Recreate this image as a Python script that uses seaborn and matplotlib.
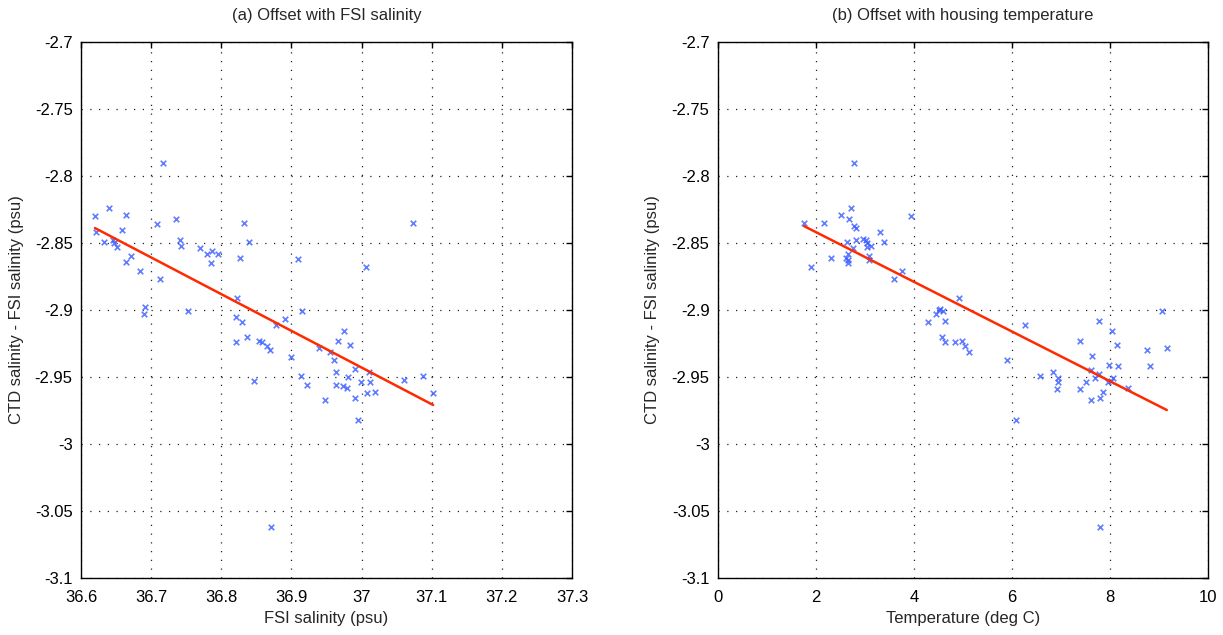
import numpy as np
import pandas as pd
import matplotlib
matplotlib.use("Agg")
import matplotlib.pyplot as plt
import seaborn as sns


# panel (a): FSI salinity vs CTD - FSI offset
fsi_salinity = [
    36.717, 36.620, 36.640, 36.664, 36.622, 36.658, 36.633, 36.645, 36.647, 36.651,
    36.671, 36.664, 36.684, 36.708, 36.712, 36.692, 36.690, 36.736, 36.741, 36.743,
    36.752, 36.770, 36.779, 36.787, 36.796, 36.785, 36.827, 36.833, 36.839, 36.823,
    36.821, 36.830, 36.836, 36.878, 36.909, 37.006, 36.821, 36.854, 36.858, 36.865,
    36.869, 36.847, 36.891, 36.900, 36.915, 36.913, 36.922, 36.948, 36.940, 36.955,
    36.961, 36.966, 36.975, 36.984, 36.963, 36.964, 36.973, 36.979, 36.980, 36.990,
    36.990, 36.999, 37.008, 37.012, 37.010, 37.019, 36.995, 37.061, 37.087, 37.102,
    37.074, 36.871,
]
offset_a = [
    -2.790, -2.830, -2.824, -2.829, -2.842, -2.840, -2.849, -2.848, -2.850, -2.853,
    -2.860, -2.864, -2.871, -2.836, -2.877, -2.898, -2.903, -2.832, -2.848, -2.852,
    -2.901, -2.854, -2.858, -2.856, -2.858, -2.865, -2.861, -2.835, -2.849, -2.891,
    -2.905, -2.909, -2.920, -2.911, -2.862, -2.868, -2.924, -2.923, -2.924, -2.927,
    -2.930, -2.953, -2.907, -2.935, -2.901, -2.949, -2.956, -2.967, -2.928, -2.931,
    -2.937, -2.923, -2.916, -2.926, -2.946, -2.956, -2.957, -2.958, -2.950, -2.944,
    -2.966, -2.954, -2.962, -2.954, -2.946, -2.961, -2.982, -2.952, -2.949, -2.962,
    -2.835, -3.062,
]

# panel (b): housing temperature vs CTD - FSI offset
housing_temp = [
    2.78, 1.76, 2.17, 2.52, 2.71, 2.68, 2.77, 2.81, 3.95, 3.31,
    3.38, 2.64, 2.81, 2.97, 3.03, 3.05, 3.12, 3.04, 2.76, 2.65,
    2.62, 2.65, 2.65, 2.30, 1.90, 3.09, 3.09, 3.75, 3.60, 4.51,
    4.45, 4.29, 4.93, 4.54, 4.60, 4.64, 4.57, 4.64, 4.83, 4.98,
    5.05, 5.12, 6.26, 5.90, 6.09, 9.06, 7.77, 8.05, 8.14, 7.39,
    8.75, 9.16, 7.64, 7.98, 8.17, 8.81, 6.57, 6.84, 6.93, 6.95,
    6.91, 7.38, 7.52, 7.61, 7.70, 7.78, 7.61, 7.80, 7.86, 7.96,
    8.06, 8.02, 8.36, 7.79,
]
offset_b = [
    -2.790, -2.835, -2.835, -2.829, -2.824, -2.832, -2.837, -2.839, -2.830, -2.842,
    -2.849, -2.849, -2.848, -2.847, -2.848, -2.850, -2.852, -2.853, -2.854, -2.858,
    -2.861, -2.863, -2.865, -2.861, -2.868, -2.860, -2.863, -2.871, -2.877, -2.900,
    -2.903, -2.909, -2.891, -2.899, -2.901, -2.908, -2.920, -2.924, -2.924, -2.923,
    -2.927, -2.931, -2.911, -2.937, -2.982, -2.901, -2.908, -2.916, -2.926, -2.923,
    -2.930, -2.928, -2.934, -2.941, -2.942, -2.942, -2.949, -2.946, -2.951, -2.954,
    -2.959, -2.959, -2.954, -2.945, -2.951, -2.948, -2.967, -2.966, -2.961, -2.954,
    -2.951, -2.953, -2.958, -3.062,
]

y_ticks = [-2.7, -2.75, -2.8, -2.85, -2.9, -2.95, -3.0, -3.05, -3.1]
x_ticks_a = [36.6, 36.7, 36.8, 36.9, 37.0, 37.1, 37.2, 37.3]
x_ticks_b = [0, 2, 4, 6, 8, 10]

sns.set_style("white")
plt.rcParams["font.family"] = ["Liberation Sans", "DejaVu Sans"]
plt.rcParams["font.size"] = 12

fig = plt.figure(figsize=(12.23, 6.35), dpi=100)
ax_a = fig.add_axes([0.0662, 0.0898, 0.4015, 0.844])
ax_b = fig.add_axes([0.587, 0.0898, 0.4007, 0.844])


def draw_panel(ax, x, y, xlabel, title, xticks):
    df = pd.DataFrame({"x": x, "y": y})
    sns.regplot(
        data=df, x="x", y="y", ax=ax, ci=None, marker="x",
        scatter_kws={"color": "#3a5cff", "s": 16, "linewidths": 1.2},
        line_kws={"color": "#ff2a00", "linewidth": 1.8},
    )
    ax.set_xlim(xticks[0], xticks[-1])
    ax.set_ylim(-3.1, -2.7)
    ax.set_xticks(xticks)
    ax.set_yticks(y_ticks)
    ax.set_xticklabels(["%g" % t for t in xticks])
    ax.set_yticklabels(["%g" % t for t in y_ticks])
    ax.grid(True, color="#222222", linestyle=(0, (1, 6)), linewidth=0.9)
    ax.tick_params(direction="in", top=True, right=True, length=4,
                   width=1, labelsize=12, colors="black")
    ax.tick_params(axis="x", pad=9)
    ax.tick_params(axis="y", pad=6)
    for s in ax.spines.values():
        s.set_color("black")
        s.set_linewidth(1)
    ax.set_xlabel(xlabel, fontsize=12, labelpad=4)
    ax.set_ylabel("CTD salinity - FSI salinity (psu)", fontsize=12, labelpad=8)
    ax.set_title(title, fontsize=12, pad=16)


draw_panel(ax_a, fsi_salinity, offset_a, "FSI salinity (psu)",
           "(a) Offset with FSI salinity", x_ticks_a)
draw_panel(ax_b, housing_temp, offset_b, "Temperature (deg C)",
           "(b) Offset with housing temperature", x_ticks_b)

plt.savefig("out.png", dpi=100)
plt.close()
